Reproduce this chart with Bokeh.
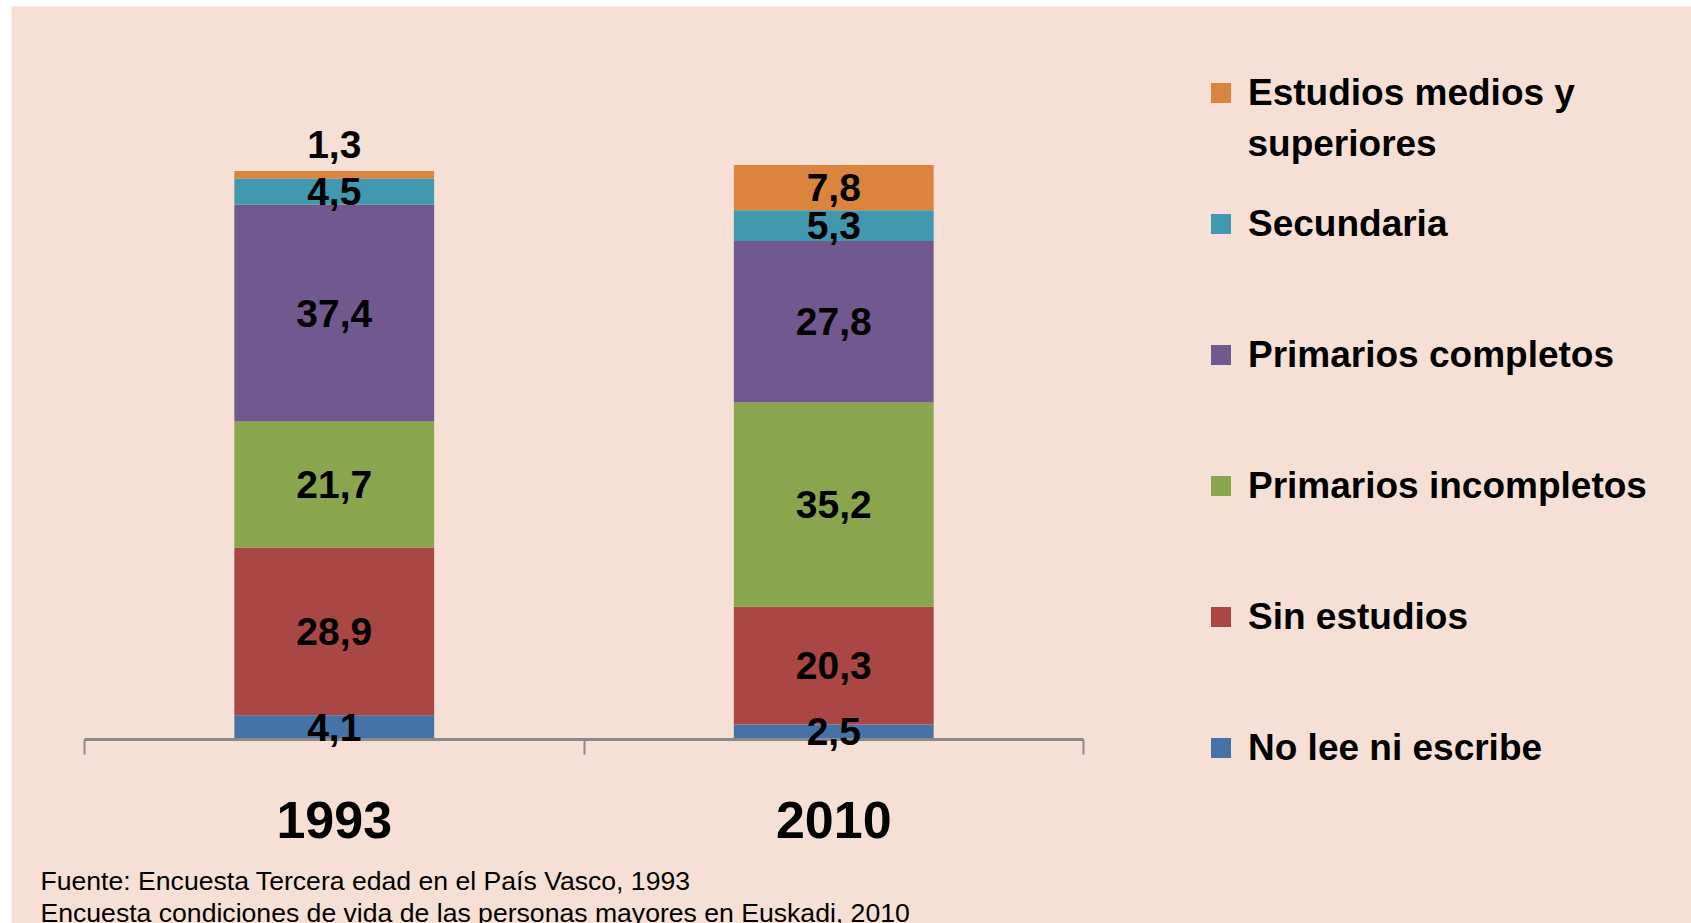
from bokeh.plotting import figure
from bokeh.models import (ColumnDataSource, Legend, LegendItem, LinearAxis,
                          FixedTicker, Range1d, Label)
from bokeh.core.properties import value
from bokeh.embed import file_html
from bokeh.resources import INLINE

# ---------------- data ----------------
years = ["1993", "2010"]
categories = ["No lee ni escribe", "Sin estudios", "Primarios incompletos",
              "Primarios completos", "Secundaria", "Estudios medios y superiores"]
no_lee = [4.1, 2.5]
sin_estudios = [28.9, 20.3]
prim_incompletos = [21.7, 35.2]
prim_completos = [37.4, 27.8]
secundaria = [4.5, 5.3]
medios_superiores = [1.3, 7.8]
series = [no_lee, sin_estudios, prim_incompletos, prim_completos, secundaria, medios_superiores]
colors = ["#4572A7", "#AA4643", "#89A54E", "#71588F", "#4198AF", "#DB843D"]
source_lines = ["Fuente: Encuesta Tercera edad en el País Vasco, 1993",
                "Encuesta condiciones de vida de las personas mayores en Euskadi, 2010"]

BG = "#F6E0D5"
FONT = "Liberation Sans"

xpos = [i + 0.5 for i in range(len(years))]
keys = [f"s{k}" for k in range(len(categories))]
data = {"x": xpos}
for k, s in zip(keys, series):
    data[k] = s
src = ColumnDataSource(data)

# ---------------- figure geometry ----------------
W, H = 1691, 923
LEFT, TOP = 11, 6
FW, FH = W - LEFT, H - TOP
PX_X = 499.5          # pixels per category band
PX_Y = 5.803          # pixels per percentage point
AXIS_PX_X = 84 - LEFT  # where the first band starts inside the frame
AXIS_PX_Y = 738.5 - TOP
x_start = -AXIS_PX_X / PX_X
y_end = AXIS_PX_Y / PX_Y
y_start = -(FH - AXIS_PX_Y) / PX_Y

p = figure(width=W, height=H, output_backend="svg", toolbar_location=None,
           x_range=Range1d(x_start, x_start + FW / PX_X),
           y_range=Range1d(y_start, y_end),
           min_border=0, min_border_left=LEFT, min_border_top=TOP,
           background_fill_color=BG, border_fill_color="white",
           outline_line_color=None, x_axis_type=None, y_axis_type=None)
p.grid.visible = False

renderers = p.vbar_stack(keys, x="x", width=0.4, source=src, color=colors,
                         line_color=None)

# ---------------- data labels ----------------
in_x, in_y, in_t, out_x, out_y, out_t = [], [], [], [], [], []
for i, x in enumerate(xpos):
    cum = 0.0
    for s in series:
        v = s[i]
        txt = f"{v:.1f}".replace(".", ",")
        if v < 2:
            out_x.append(x); out_y.append(cum + v); out_t.append(txt)
        else:
            in_x.append(x); in_y.append(cum + v / 2); in_t.append(txt)
        cum += v

t_in = p.text(x=in_x, y=in_y, text=in_t, text_align="center", text_baseline="middle",
              text_font=value(FONT), text_font_style="bold", text_font_size="39px",
              text_color="black")
t_out = p.text(x=out_x, y=out_y, text=out_t, text_align="center",
               text_baseline="middle", y_offset=-26, text_font=value(FONT),
               text_font_style="bold", text_font_size="39px", text_color="black")
t_in.level = "annotation"
t_out.level = "annotation"

# ---------------- x axis ----------------
xaxis = LinearAxis(ticker=FixedTicker(ticks=xpos, minor_ticks=list(range(len(years) + 1))),
                   bounds=(0, len(years)), fixed_location=0,
                   major_label_overrides={x: y for x, y in zip(xpos, years)})
xaxis.axis_line_color = "#8A8A8A"
xaxis.axis_line_width = 3
xaxis.major_tick_line_color = None
xaxis.major_tick_out = 0
xaxis.major_tick_in = 0
xaxis.minor_tick_line_color = "#8A8A8A"
xaxis.minor_tick_line_width = 2
xaxis.minor_tick_out = 15
xaxis.minor_tick_in = 0
xaxis.major_label_standoff = 48
xaxis.major_label_text_font = FONT
xaxis.major_label_text_font_style = "bold"
xaxis.major_label_text_font_size = "52px"
xaxis.major_label_text_color = "black"
p.add_layout(xaxis, "below")

# ---------------- legend ----------------
first_line, second_line = categories[-1].split(" y ")
first_line += " y"
labels = categories[:-1] + [first_line]
items = [LegendItem(label=c, renderers=[r]) for c, r in zip(labels, renderers)][::-1]
legend = Legend(items=items, location=(1208 - LEFT, H - 773), orientation="vertical",
                glyph_width=25, glyph_height=25, label_standoff=15,
                label_height=51, spacing=80, padding=0, margin=0,
                border_line_color=None, background_fill_alpha=0,
                label_text_font=FONT, label_text_font_style="bold",
                label_text_font_size="37px", label_text_color="black")
p.add_layout(legend)
p.add_layout(Label(x=1247 - LEFT, y=H - 143, x_units="screen", y_units="screen",
                   text=second_line, text_font=FONT, text_font_style="bold",
                   text_font_size="37px", text_color="black",
                   text_baseline="middle", text_align="left"))

# ---------------- source note ----------------
for j, line in enumerate(source_lines):
    p.add_layout(Label(x=40 - LEFT, y=H - 880 - 32 * j, x_units="screen", y_units="screen",
                       text=line, text_font=FONT, text_font_size="26.6px",
                       text_color="black", text_baseline="middle", text_align="left"))

open("out.html", "w").write(file_html(p, INLINE))
